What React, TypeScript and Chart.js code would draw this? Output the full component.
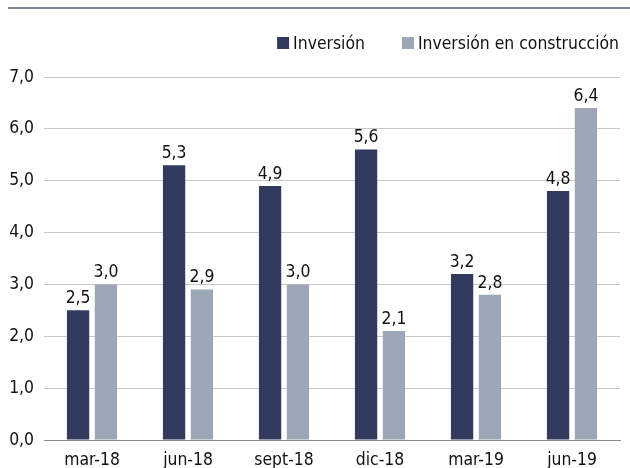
import React, { useEffect, useRef } from "react";
import { Chart, registerables } from "chart.js";

Chart.register(...registerables);

const categories = ["mar-18", "jun-18", "sept-18", "dic-18", "mar-19", "jun-19"];
const inversion = [2.5, 5.3, 4.9, 5.6, 3.2, 4.8];
const inversionConstruccion = [3.0, 2.9, 3.0, 2.1, 2.8, 6.4];
const seriesNames = ["Inversión", "Inversión en construcción"];
const yTicks = [0, 1, 2, 3, 4, 5, 6, 7];

const DARK = "#323a5e";
const LIGHT = "#9ba6b6";
const FONT = "'DejaVu Sans Condensed', 'DejaVu Sans', sans-serif";
const TEXT = "#111111";
const FS = 17.4;

const fmt = (v: number) => v.toFixed(1).replace(".", ",");

const dataLabels = {
  id: "dataLabels",
  afterDatasetsDraw(chart: any) {
    const ctx = chart.ctx;
    ctx.save();
    ctx.font = `${FS}px ${FONT}`;
    ctx.fillStyle = TEXT;
    ctx.textAlign = "center";
    ctx.textBaseline = "bottom";
    chart.data.datasets.forEach((ds: any, i: number) => {
      const meta = chart.getDatasetMeta(i);
      meta.data.forEach((bar: any, j: number) => {
        ctx.fillText(fmt(ds.data[j]), bar.x, bar.y - 3);
      });
    });
    ctx.restore();
  },
};

const customLegend = {
  id: "customLegend",
  afterDraw(chart: any) {
    const ctx = chart.ctx;
    ctx.save();
    ctx.font = `${FS}px ${FONT}`;
    ctx.textBaseline = "middle";
    ctx.textAlign = "left";
    const y = 43;
    const colors = [DARK, LIGHT];
    const right = 619;
    const gap = 37;
    const box = 12;
    const textGap = 4;
    const widths = seriesNames.map((n) => ctx.measureText(n).width);
    let total = 0;
    widths.forEach((w, i) => {
      total += box + textGap + w + (i < widths.length - 1 ? gap : 0);
    });
    let x = right - total;
    seriesNames.forEach((n, i) => {
      ctx.fillStyle = colors[i];
      ctx.fillRect(x, y - box / 2, box, box);
      x += box + textGap;
      ctx.fillStyle = TEXT;
      ctx.fillText(n, x, y + 1);
      x += widths[i] + gap;
    });
    ctx.restore();
  },
};

export default function App() {
  const ref = useRef<HTMLCanvasElement>(null);
  useEffect(() => {
    if (!ref.current) return;
    const chart = new Chart(ref.current, {
      type: "bar",
      data: {
        labels: categories,
        datasets: [
          {
            label: seriesNames[0],
            data: inversion,
            backgroundColor: DARK,
            barPercentage: 0.8,
            categoryPercentage: 0.58,
          },
          {
            label: seriesNames[1],
            data: inversionConstruccion,
            backgroundColor: LIGHT,
            barPercentage: 0.8,
            categoryPercentage: 0.58,
          },
        ],
      },
      options: {
        animation: false,
        responsive: true,
        maintainAspectRatio: false,
        layout: { padding: { top: 77, right: 10, bottom: 0, left: 0 } },
        plugins: {
          legend: { display: false },
          tooltip: { enabled: false },
        },
        scales: {
          x: {
            grid: { display: false, drawTicks: false },
            border: { display: true, color: "#8c8c8c", width: 1 },
            ticks: {
              color: TEXT,
              font: { family: FONT, size: FS },
              padding: 10,
              maxRotation: 0,
            },
            afterFit: (s: any) => {
              s.height = 28;
            },
          },
          y: {
            min: 0,
            max: 7,
            afterBuildTicks: (s: any) => {
              s.ticks = yTicks.map((v) => ({ value: v }));
            },
            grid: {
              color: (c: any) => (c.tick && c.tick.value === 0 ? "#8c8c8c" : "#c8c8c8"),
              drawTicks: false,
              lineWidth: 1,
            },
            border: { display: false },
            ticks: {
              color: TEXT,
              font: { family: FONT, size: FS },
              padding: 10,
              callback: (v: any) => fmt(Number(v)),
            },
            afterFit: (s: any) => {
              s.width = 44;
            },
          },
        },
      },
      plugins: [dataLabels, customLegend],
    });
    return () => chart.destroy();
  }, []);

  return (
    <div style={{ position: "absolute", left: 0, top: 0, width: 630, height: 468, background: "#fff" }}>
      <div style={{ position: "absolute", left: 8, right: 0, top: 7, height: 2, background: "#7d839c" }} />
      <div style={{ position: "absolute", left: 0, top: 0, width: 630, height: 468 }}>
        <canvas ref={ref} />
      </div>
    </div>
  );
}
